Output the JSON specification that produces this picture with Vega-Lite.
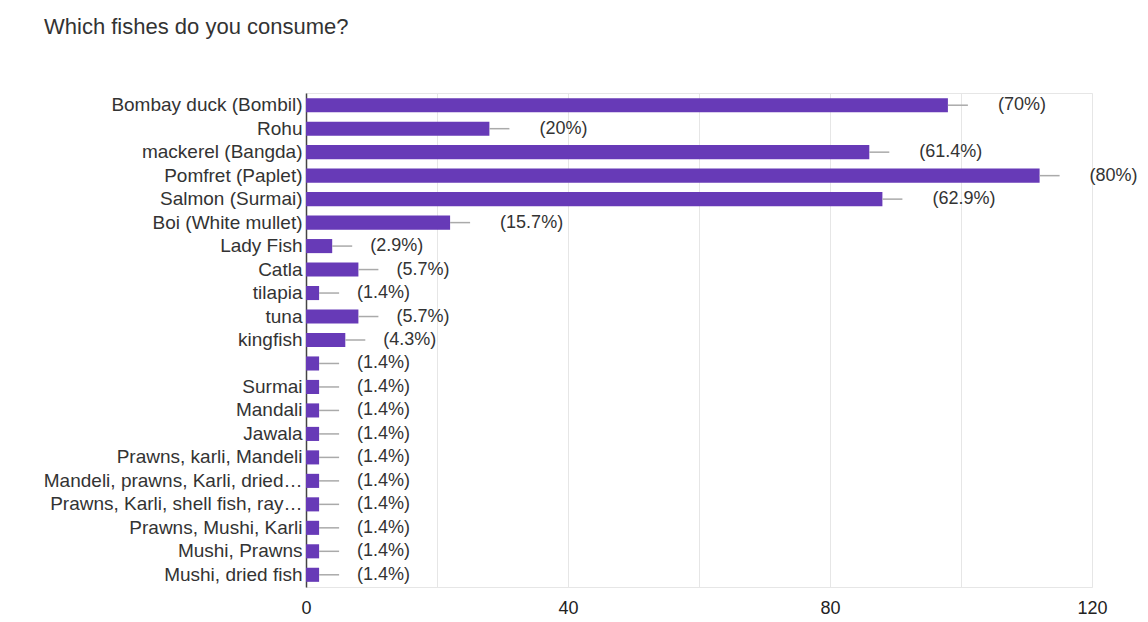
{
  "$schema": "https://vega.github.io/schema/vega-lite/v6.json",
  "autosize": {"type": "none"},
  "width": 786,
  "height": 494,
  "padding": {"left": 306, "top": 93, "right": 56, "bottom": 35},
  "background": "white",
  "title": {
    "text": "Which fishes do you consume?",
    "anchor": "start",
    "frame": "group",
    "dx": -262,
    "offset": 54,
    "fontSize": 22,
    "font": "Liberation Sans",
    "fontWeight": "normal",
    "color": "#333333"
  },
  "config": {
    "view": {"stroke": "#e6e6e6", "strokeWidth": 1},
    "font": "Liberation Sans"
  },
  "data": {
    "values": [
      {"fish": "Bombay duck (Bombil)", "count": 98, "pct": "(70%)"},
      {"fish": "Rohu", "count": 28, "pct": "(20%)"},
      {"fish": "mackerel (Bangda)", "count": 86, "pct": "(61.4%)"},
      {"fish": "Pomfret (Paplet)", "count": 112, "pct": "(80%)"},
      {"fish": "Salmon (Surmai)", "count": 88, "pct": "(62.9%)"},
      {"fish": "Boi (White mullet)", "count": 22, "pct": "(15.7%)"},
      {"fish": "Lady Fish", "count": 4, "pct": "(2.9%)"},
      {"fish": "Catla", "count": 8, "pct": "(5.7%)"},
      {"fish": "tilapia", "count": 2, "pct": "(1.4%)"},
      {"fish": "tuna", "count": 8, "pct": "(5.7%)"},
      {"fish": "kingfish", "count": 6, "pct": "(4.3%)"},
      {"fish": " ", "count": 2, "pct": "(1.4%)"},
      {"fish": "Surmai", "count": 2, "pct": "(1.4%)"},
      {"fish": "Mandali", "count": 2, "pct": "(1.4%)"},
      {"fish": "Jawala", "count": 2, "pct": "(1.4%)"},
      {"fish": "Prawns, karli, Mandeli", "count": 2, "pct": "(1.4%)"},
      {"fish": "Mandeli, prawns, Karli, dried…", "count": 2, "pct": "(1.4%)"},
      {"fish": "Prawns, Karli, shell fish, ray…", "count": 2, "pct": "(1.4%)"},
      {"fish": "Prawns, Mushi, Karli", "count": 2, "pct": "(1.4%)"},
      {"fish": "Mushi, Prawns", "count": 2, "pct": "(1.4%)"},
      {"fish": "Mushi, dried fish", "count": 2, "pct": "(1.4%)"}
    ]
  },
  "encoding": {
    "y": {
      "field": "fish",
      "type": "nominal",
      "sort": null,
      "scale": {"paddingInner": 0.4, "paddingOuter": 0.22},
      "axis": {
        "title": null,
        "ticks": false,
        "domain": true,
        "domainColor": "#444444",
        "domainWidth": 1.5,
        "labelFontSize": 19,
        "labelColor": "#333333",
        "labelPadding": 4,
        "labelLimit": 400,
        "grid": false
      }
    }
  },
  "layer": [
    {
      "mark": {"type": "bar", "color": "#673ab7"},
      "encoding": {
        "x": {
          "field": "count",
          "type": "quantitative",
          "scale": {"domain": [0, 120], "nice": false},
          "axis": {
            "title": null,
            "values": [0, 20, 40, 60, 80, 100, 120],
            "labelExpr": "datum.value % 40 == 0 ? datum.label : ''",
            "ticks": false,
            "domain": false,
            "grid": true,
            "gridColor": "#e6e6e6",
            "labelFontSize": 18,
            "labelColor": "#222222",
            "labelPadding": 12,
            "labelFlush": false
          }
        }
      }
    },
    {
      "mark": {"type": "rule", "color": "#aaaaaa", "strokeWidth": 1.5, "x2Offset": 20},
      "encoding": {
        "x": {"field": "count", "type": "quantitative"},
        "x2": {"field": "count"}
      }
    },
    {
      "transform": [{"filter": "datum.count >= 10"}],
      "mark": {"type": "text", "align": "left", "dx": 50, "fontSize": 18, "color": "#333333"},
      "encoding": {
        "x": {"field": "count", "type": "quantitative"},
        "text": {"field": "pct"}
      }
    },
    {
      "transform": [{"filter": "datum.count < 10"}],
      "mark": {"type": "text", "align": "left", "dx": 38, "fontSize": 18, "color": "#333333"},
      "encoding": {
        "x": {"field": "count", "type": "quantitative"},
        "text": {"field": "pct"}
      }
    }
  ]
}
